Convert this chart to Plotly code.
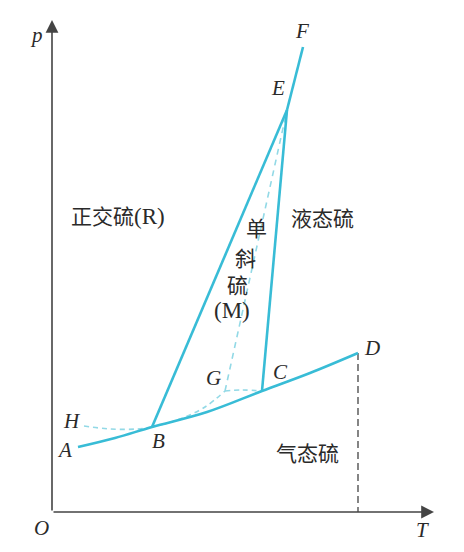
import plotly.graph_objects as go

# Schematic phase diagram of sulfur (arbitrary T / p units, origin at O)
# Solid phase-boundary curve A-B-C-D
abcd_T = [26, 63, 100, 155, 210, 258, 306]
abcd_p = [65, 74, 85, 100, 121, 139, 159]
# Solid lines B-E, C-E, E-F
be_T = [100, 235]
be_p = [85, 402]
ce_T = [210, 235]
ce_p = [121, 402]
ef_T = [235, 251]
ef_p = [402, 465]
# Metastable (dashed) lines
hb_T = [32, 58, 85, 100]
hb_p = [86, 83, 83, 85]
bg_T = [100, 128, 153, 173]
bg_p = [85, 93, 105, 121]
gc_T = [173, 190, 210]
gc_p = [121, 122, 121]
ge_T = [173, 235]
ge_p = [121, 402]
dd_T = [306, 306]
dd_p = [159, 0]

# Point labels
pt_names = ["A", "B", "C", "D", "E", "F", "G", "H"]
pt_T = [12, 106, 228, 320, 226, 250, 161, 20]
pt_p = [62, 71, 140, 164, 424, 481, 134, 91]

CYAN = "#38BCD6"
LIGHT = "#92D9E6"
DARK = "#444444"
TXT = "#2a2a2a"

fig = go.Figure()

def line(x, y, color, width, dash="solid", shape="linear"):
    fig.add_trace(go.Scatter(x=x, y=y, mode="lines",
                             line=dict(color=color, width=width, dash=dash, shape=shape),
                             hoverinfo="skip", showlegend=False))

line(hb_T, hb_p, LIGHT, 1.6, "5px,4px", "spline")
line(bg_T, bg_p, LIGHT, 1.6, "5px,4px", "spline")
line(gc_T, gc_p, LIGHT, 1.6, "5px,4px", "spline")
line(ge_T, ge_p, LIGHT, 1.6, "6px,5px")
line(dd_T, dd_p, DARK, 1.3, "7px,4px")
line(abcd_T, abcd_p, CYAN, 2.6, "solid", "spline")
line(be_T, be_p, CYAN, 2.6)
line(ce_T, ce_p, CYAN, 2.6)
line(ef_T, ef_p, CYAN, 2.6)

# Axes drawn as arrows
fig.add_annotation(x=0, y=492, ax=0, ay=0, xref="x", yref="y", axref="x", ayref="y",
                   showarrow=True, arrowhead=2, arrowsize=1.6, arrowwidth=1.6,
                   arrowcolor=DARK, text="")
fig.add_annotation(x=382, y=0, ax=0, ay=0, xref="x", yref="y", axref="x", ayref="y",
                   showarrow=True, arrowhead=2, arrowsize=1.6, arrowwidth=1.6,
                   arrowcolor=DARK, text="")

serif_it = dict(family="Liberation Serif", size=21, color=TXT)
for n, tx, ty in zip(pt_names, pt_T, pt_p):
    fig.add_annotation(x=tx, y=ty, text=f"<i>{n}</i>", showarrow=False, font=serif_it)
fig.add_annotation(x=-16, y=477, text="<i>p</i>", showarrow=False, font=serif_it)
fig.add_annotation(x=-11, y=-16, text="<i>O</i>", showarrow=False, font=serif_it)
fig.add_annotation(x=370, y=-18, text="<i>T</i>", showarrow=False, font=serif_it)

cjk = dict(family="Noto Sans CJK SC", size=21, color=TXT)
ser = "<span style='font-family:Liberation Serif;font-size:23px'>{}</span>"
fig.add_annotation(x=66, y=297, text="正交硫" + ser.format("(R)"), showarrow=False, font=cjk)
fig.add_annotation(x=270, y=295, text="液态硫", showarrow=False, font=cjk)
fig.add_annotation(x=255, y=60, text="气态硫", showarrow=False, font=cjk)
vert_chars = ["单", "斜", "硫", ser.format("(M)")]
vert_T = [204, 193, 185, 180]
vert_p = [285, 255, 228, 202]
for ch, tx, ty in zip(vert_chars, vert_T, vert_p):
    fig.add_annotation(x=tx, y=ty, text=ch, showarrow=False, font=cjk)

# page has an 8px body margin: ranges chosen so that data origin sits at page (52, 512)
fig.update_layout(
    width=464, height=552,
    margin=dict(l=0, r=0, t=0, b=0),
    paper_bgcolor="white", plot_bgcolor="white",
    xaxis=dict(range=[-44, 420], visible=False, fixedrange=True),
    yaxis=dict(range=[-48, 504], visible=False, fixedrange=True),
    showlegend=False,
)

fig.write_html("out.html")
